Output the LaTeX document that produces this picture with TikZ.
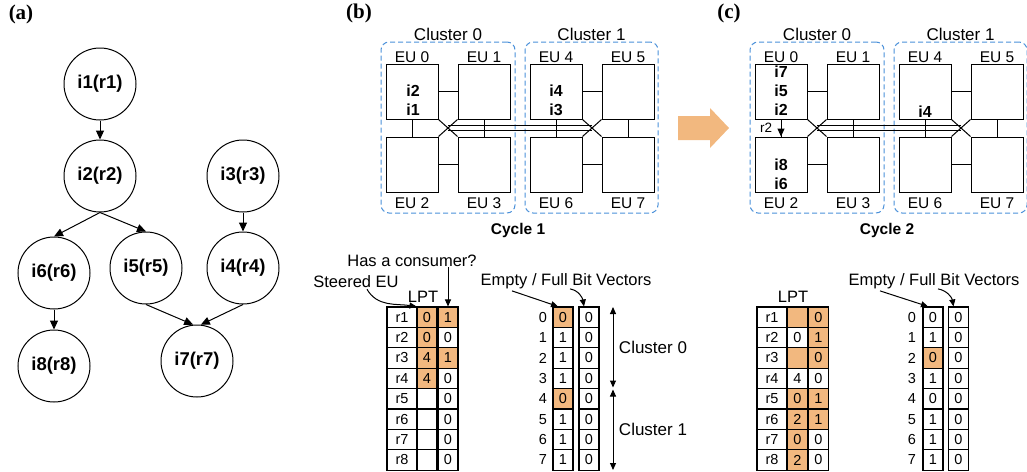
\documentclass[tikz,border=0pt]{standalone}
\usepackage{fontspec}
\setmainfont{Liberation Sans}
\newfontfamily\serifbf{Liberation Serif}
\usetikzlibrary{arrows.meta,calc}
\definecolor{of}{RGB}{242,184,127}
\definecolor{clb}{RGB}{74,144,217}
\newcommand\fsz[1]{\fontsize{#1}{#1}\selectfont}

\tikzset{
  circ/.style={circle,draw,line width=1pt,minimum size=72pt,inner sep=0pt,font=\bfseries\fsz{18.5}},
  dagarrow/.style={line width=1pt,-{Triangle[length=9pt,width=8pt]}},
  smallarrow/.style={line width=1pt,-{Triangle[length=7pt,width=6pt]}},
  dblarrow/.style={line width=1pt,{Triangle[length=7pt,width=6pt]}-{Triangle[length=7pt,width=6pt]}},
  eu/.style={draw,line width=1pt,minimum width=52pt,minimum height=55pt,inner sep=0pt},
  wire/.style={line width=1pt},
  cluster/.style={draw=clb,line width=1pt,dash pattern=on 5pt off 3pt,rounded corners=8pt,minimum height=171pt,inner sep=0pt},
  lab/.style={inner sep=0pt,font=\fsz{16.5}},
  eulab/.style={inner sep=0pt,font=\fsz{15.5}},
  inst/.style={inner sep=0pt,font=\bfseries\fsz{16}},
  cyc/.style={inner sep=0pt,font=\bfseries\fsz{15.5}},
  panel/.style={inner sep=0pt,font=\serifbf\bfseries\fsz{21}},
  cell/.style={draw,line width=1.1pt,minimum width=20pt,minimum height=20.4pt,inner sep=0pt,font=\fsz{14.5}},
  cellr/.style={cell,minimum width=30pt},
  idx/.style={inner sep=0pt,font=\fsz{14.5}},
}

\newcommand\mkgrid[2]{%
\begin{scope}[shift={(#2,0)}]
  \node[cluster,minimum width=134pt] (#1c0) at (448,127.5) {};
  \node[cluster,minimum width=133pt] (#1c1) at (591.5,127.5) {};
  \node[lab,font=\fsz{17}] (#1cl0) at (448,34) {Cluster 0};
  \node[lab,font=\fsz{17}] (#1cl1) at (591.5,34) {Cluster 1};
  \node[eu] (#1e0) at (412,91.5) {};
  \node[eu] (#1e1) at (484,91.5) {};
  \node[eu] (#1e2) at (412,164.5) {};
  \node[eu] (#1e3) at (484,164.5) {};
  \node[eu] (#1e4) at (556,91.5) {};
  \node[eu] (#1e5) at (628,91.5) {};
  \node[eu] (#1e6) at (556,164.5) {};
  \node[eu] (#1e7) at (628,164.5) {};
  \node[eulab] (#1l0) at (412,57) {EU 0};
  \node[eulab] (#1l1) at (484,57) {EU 1};
  \node[eulab] (#1l4) at (556,57) {EU 4};
  \node[eulab] (#1l5) at (628,57) {EU 5};
  \node[eulab] (#1l2) at (412,203) {EU 2};
  \node[eulab] (#1l3) at (484,203) {EU 3};
  \node[eulab] (#1l6) at (556,203) {EU 6};
  \node[eulab] (#1l7) at (628,203) {EU 7};
  \draw[wire] (#1e0.east) -- (#1e1.west);
  \draw[wire] (#1e2.east) -- (#1e3.west);
  \draw[wire] (#1e0.south) -- (#1e2.north);
  \draw[wire] (#1e1.south) -- (#1e3.north);
  \draw[wire] (#1e0.south east) -- (#1e3.north west);
  \draw[wire] (#1e1.south west) -- (#1e2.north east);
  \draw[wire] (#1e4.east) -- (#1e5.west);
  \draw[wire] (#1e6.east) -- (#1e7.west);
  \draw[wire] (#1e4.south) -- (#1e6.north);
  \draw[wire] (#1e5.south) -- (#1e7.north);
  \draw[wire] (#1e4.south east) -- (#1e7.north west);
  \draw[wire] (#1e5.south west) -- (#1e6.north east);
  \coordinate (#1x0) at ($(#1e0.south east)!0.5!(#1e3.north west)$);
  \coordinate (#1x1) at ($(#1e4.south east)!0.5!(#1e7.north west)$);
  \draw[wire] ([yshift=2.2pt]#1x0) -- ([yshift=2.2pt]#1x1);
  \draw[wire] ([yshift=-2.2pt]#1x0) -- ([yshift=-2.2pt]#1x1);
\end{scope}}

\begin{document}
\begin{tikzpicture}[x=1pt,y=-1pt]
\useasboundingbox (0,0) rectangle (1027,471);

% ---------- (a) ----------
\node[panel] (pa) at (21,14) {(a)};
\node[circ] (i1) at (100,84) {i1(r1)};
\node[circ] (i2) at (100,176) {i2(r2)};
\node[circ] (i3) at (243,176) {i3(r3)};
\node[circ] (i6) at (54,273) {i6(r6)};
\node[circ] (i5) at (146,268) {i5(r5)};
\node[circ] (i4) at (243,268) {i4(r4)};
\node[circ] (i8) at (54,366) {i8(r8)};
\node[circ] (i7) at (197,361) {i7(r7)};
\draw[dagarrow] (i1.south) -- (i2.north);
\draw[dagarrow] (i2.south) -- (i6.north);
\draw[dagarrow] (i2.south) -- (i5.north);
\draw[dagarrow] (i3.south) -- (i4.north);
\draw[dagarrow] (i6.south) -- (i8.north);
\draw[dagarrow] (i5.south) -- (i7.96);
\draw[dagarrow] (i4.south) -- (i7.84);

% ---------- (b) ----------
\node[panel] (pb) at (359,13) {(b)};
\mkgrid{b}{0}
\node[inst] (bi2) at (413,91) {i2};
\node[inst] (bi1) at (413,110) {i1};
\node[inst] (bi4) at (556,91) {i4};
\node[inst] (bi3) at (556,110) {i3};
\node[cyc] (bcy) at (518,230) {Cycle 1};

% orange arrow
\fill[of] (678,116) -- (710,116) -- (710,108) -- (729,128) -- (710,148) -- (710,140) -- (678,140) -- cycle;

% ---------- (c) ----------
\node[panel] (pc) at (729,13) {(c)};
\mkgrid{c}{369}
\node[inst] (ci7) at (781,72) {i7};
\node[inst] (ci5) at (781,91) {i5};
\node[inst] (ci2) at (781,110) {i2};
\node[inst] (ci8) at (781,165) {i8};
\node[inst] (ci6) at (781,183.5) {i6};
\node[inst] (ci4) at (925,112) {i4};
\draw[line width=1pt,-{Triangle[length=8pt,width=7pt]}] (ce0.south) -- (ce2.north);
\node[inst,font=\fsz{13.5}] (cr2) at (766,128) {r2};
\node[cyc] (ccy) at (887,230) {Cycle 2};

% ---------- LPT (b) ----------
\node[lab] (hc) at (412,261) {Has a consumer?};
\node[lab] (se) at (356,282) {Steered EU};
\node[lab] (lptb) at (423,297) {LPT};
\foreach \i/\a/\fa/\b/\fb in {1/0/of/1/of,2/0/of/0/white,3/4/of/1/of,4/4/of/0/white,5//white/0/white,6//white/0/white,7//white/0/white,8//white/0/white}{
  \node[cellr] (bl\i r) at (402,{307+20.4*(\i-0.5)}) {r\i};
  \node[cell,fill=\fa] (bl\i a) at (427,{307+20.4*(\i-0.5)}) {\a};
  \node[cell,fill=\fb] (bl\i b) at (448,{307+20.4*(\i-0.5)}) {\b};
}
\draw[smallarrow] (hc.south -| bl1b.north) -- (bl1b.north);
\draw[smallarrow] ([xshift=11pt,yshift=-1pt]se.south) to[out=-60,in=172] (bl1a.north west);

% ---------- bit vectors (b) ----------
\node[lab] (efb) at (566,281) {Empty / Full Bit Vectors};
\foreach \i/\v/\fv in {0/0/of,1/1/white,2/1/white,3/1/white,4/0/of,5/1/white,6/1/white,7/1/white}{
  \node[idx] (bn\i) at (543,{317.2+20.4*\i}) {\i};
  \node[cell,fill=\fv] (bv\i a) at (563,{317.2+20.4*\i}) {\v};
  \node[cell] (bv\i b) at (589,{317.2+20.4*\i}) {0};
}
\draw[smallarrow] ([xshift=-54pt,yshift=-2pt]efb.south) -- ([xshift=-5pt]bv0a.north);
\draw[smallarrow] ([xshift=4pt]efb.south) to[out=-10,in=100] ([xshift=-5pt]bv0b.north);
\coordinate (bk0) at (613,307);
\coordinate (bk1) at (613,387.5);
\coordinate (bk2) at (613,389.5);
\coordinate (bk3) at (613,470);
\draw[dblarrow] (bk0) -- (bk1);
\draw[dblarrow] (bk2) -- (bk3);
\node[lab,font=\fsz{17}] (bcl0) at (653,347) {Cluster 0};
\node[lab,font=\fsz{17}] (bcl1) at (653,429) {Cluster 1};

% ---------- LPT (c) ----------
\node[lab] (lptc) at (793,297) {LPT};
\foreach \i/\a/\fa/\b/\fb in {1//of/0/of,2/0/white/1/of,3//of/0/of,4/4/white/0/white,5/0/of/1/of,6/2/of/1/of,7/0/of/0/white,8/2/of/0/white}{
  \node[cellr] (cl\i r) at (772,{307+20.4*(\i-0.5)}) {r\i};
  \node[cell,fill=\fa] (cl\i a) at (797.5,{307+20.4*(\i-0.5)}) {\a};
  \node[cell,fill=\fb] (cl\i b) at (818.5,{307+20.4*(\i-0.5)}) {\b};
}

% ---------- bit vectors (c) ----------
\node[lab] (efc) at (934,281) {Empty / Full Bit Vectors};
\foreach \i/\v/\fv in {0/0/white,1/1/white,2/0/of,3/1/white,4/0/white,5/1/white,6/1/white,7/1/white}{
  \node[idx] (cn\i) at (912,{317.2+20.4*\i}) {\i};
  \node[cell,fill=\fv] (cv\i a) at (933,{317.2+20.4*\i}) {\v};
  \node[cell] (cv\i b) at (958.5,{317.2+20.4*\i}) {0};
}
\draw[smallarrow] ([xshift=-54pt,yshift=-2pt]efc.south) -- ([xshift=-5pt]cv0a.north);
\draw[smallarrow] ([xshift=4pt]efc.south) to[out=-10,in=100] ([xshift=-5pt]cv0b.north);
\end{tikzpicture}
\end{document}
